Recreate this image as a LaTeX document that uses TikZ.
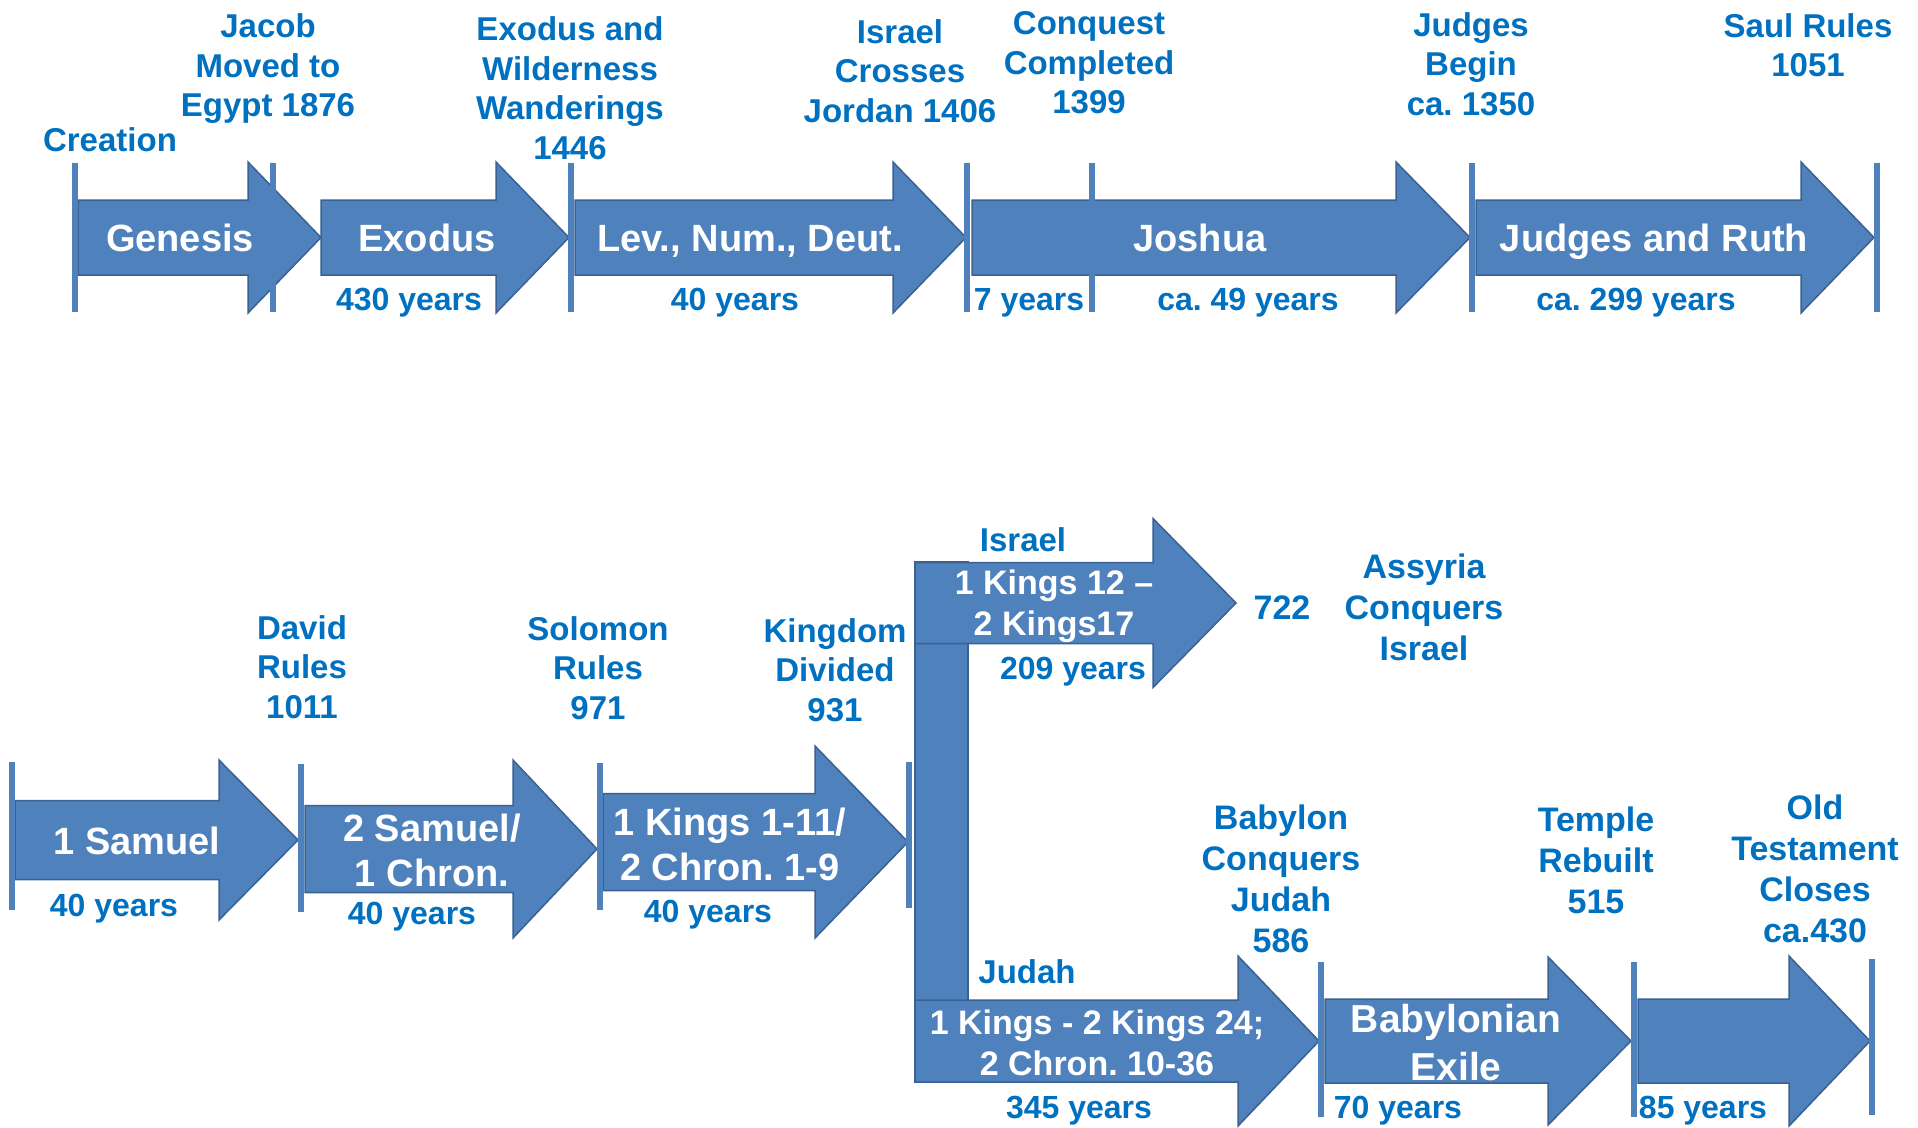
\documentclass[tikz,border=0pt]{standalone}
\usepackage{fontspec}
\setmainfont{Liberation Sans}
\definecolor{abl}{HTML}{4F81BD}
\definecolor{aedge}{HTML}{3A6191}
\definecolor{lbl}{HTML}{0070C0}
\newcommand{\blockarrow}[6]{%
  \draw[arrowshape] ({#1},{#4-#5}) -- ({#2},{#4-#5}) -- ({#2},{#4-#6}) -- ({#3},{#4})
     -- ({#2},{#4+#6}) -- ({#2},{#4+#5}) -- ({#1},{#4+#5}) -- cycle;}
\begin{document}
\frenchspacing
\begin{tikzpicture}[x=1pt,y=-1pt,
  arrowshape/.style={fill=abl, draw=aedge, line width=1.5pt, line join=miter},
  tickline/.style={draw=abl, line width=6pt},
  lab/.style={text=lbl, font=\bfseries\fontsize{33}{39.5}\selectfont, align=center, inner sep=0pt},
  biglab/.style={text=lbl, font=\bfseries\fontsize{34}{41}\selectfont, align=center, inner sep=0pt},
  dur/.style={text=lbl, font=\bfseries\fontsize{32}{38}\selectfont, inner sep=0pt},
  inside/.style={text=white, font=\bfseries\fontsize{38}{45}\selectfont, align=center, inner sep=0pt},
  insideone/.style={inside, text height=27pt, text depth=0pt},
  insidesm/.style={text=white, font=\bfseries\fontsize{34}{41}\selectfont, align=center, inner sep=0pt}]
\useasboundingbox (0,0) rectangle (1918,1127);

% ---------- top row arrows ----------
\blockarrow{78}{248}{321}{237.5}{37.5}{75.5}
\blockarrow{321}{496}{569}{237.5}{37.5}{75.5}
\blockarrow{575}{893}{966}{237.5}{37.5}{75.5}
\blockarrow{972}{1396}{1470}{237.5}{37.5}{75.5}
\blockarrow{1476}{1801}{1874}{237.5}{37.5}{75.5}

\foreach \x in {75,273,571,967,1092,1472,1877}
  \draw[tickline] (\x,163) -- (\x,312);

% ---------- bottom row arrows ----------
\blockarrow{15}{219}{298}{840}{39.5}{80}
\blockarrow{305}{513}{597}{849}{43.5}{89}
\blockarrow{603}{815}{908}{842}{48.5}{96}
\draw[arrowshape] (915,562) rectangle (968,1082);
\blockarrow{915}{1153}{1236}{603}{40.5}{84.5}
\blockarrow{915}{1238}{1319}{1041}{41}{85}
\blockarrow{1325}{1548}{1631}{1041}{42}{84}
\blockarrow{1638}{1789}{1870}{1041}{42}{85}

\draw[tickline] (12,762) -- (12,910);
\draw[tickline] (301,764) -- (301,912);
\draw[tickline] (600,763) -- (600,910);
\draw[tickline] (909,762) -- (909,908);
\draw[tickline] (1321,962) -- (1321,1117);
\draw[tickline] (1634,962) -- (1634,1117);
\draw[tickline] (1872,959) -- (1872,1115);

% ---------- top labels ----------
\node[lab] (creation) at (110,140) {Creation};
\node[lab] (jacob) at (268,69) {Jacob\\Moved to\\Egypt 1876};
\node[lab] (exodusev) at (570,88) {Exodus and\\Wilderness\\Wanderings\\1446};
\node[lab] (jordan) at (900,71) {Israel\\Crosses\\Jordan 1406};
\node[lab] (conquest) at (1089,63) {Conquest\\Completed\\1399};
\node[lab] (judgesbegin) at (1471,64) {Judges\\Begin\\ca. 1350};
\node[lab] (saul) at (1808,45) {Saul Rules\\1051};

% ---------- top arrow texts ----------
\node[insideone] (genesis) at (180,238) {Genesis};
\node[insideone] (exodus) at (427,238) {Exodus};
\node[insideone] (lev) at (750,238) {Lev., Num., Deut.};
\node[insideone] (joshua) at (1200,238) {Joshua};
\node[insideone] (judges) at (1654,238) {Judges and Ruth};

\node[dur] (d430) at (409,303) {430 years};
\node[dur] (d40a) at (735,303) {40 years};
\node[dur] (d7) at (1029,303) {7 years};
\node[dur] (d49) at (1248,303) {ca. 49 years};
\node[dur] (d299) at (1636,303) {ca. 299 years};

% ---------- bottom labels ----------
\node[lab] (david) at (302,667) {David\\Rules\\1011};
\node[lab] (solomon) at (598,668) {Solomon\\Rules\\971};
\node[lab] (kingdom) at (835,670) {Kingdom\\Divided\\931};
\node[lab] (israellab) at (1023,540) {Israel};
\node[biglab] (y722) at (1282,608) {722};
\node[biglab] (assyria) at (1424,607) {Assyria\\Conquers\\Israel};
\node[lab] (judahlab) at (1027,972) {Judah};
\node[biglab] (babylon) at (1281,879) {Babylon\\Conquers\\Judah\\586};
\node[biglab] (temple) at (1596,860) {Temple\\Rebuilt\\515};
\node[biglab] (oldt) at (1815,869) {Old\\Testament\\Closes\\ca.430};

% ---------- bottom arrow texts ----------
\node[insideone] (sam1) at (137,841) {1 Samuel};
\node[inside] (sam2) at (432,850) {2 Samuel/\\1 Chron.};
\node[inside] (kings1) at (730,844) {1 Kings 1-11/\\2 Chron. 1-9};
\node[insidesm] (israeltxt) at (1054,606) {1 Kings 12 --\\2 Kings17};
\node[insidesm] (judahtxt) at (1097,1043) {1 Kings - 2 Kings 24;\\2 Chron. 10-36};
\node[text=white, font=\bfseries\fontsize{39}{48}\selectfont, align=center, inner sep=0pt] (exile) at (1456,1043) {Babylonian\\Exile};

\node[dur] (d40b) at (114,909) {40 years};
\node[dur] (d40c) at (412,917) {40 years};
\node[dur] (d40d) at (708,915) {40 years};
\node[dur] (d209) at (1073,672) {209 years};
\node[dur] (d345) at (1079,1111) {345 years};
\node[dur] (d70) at (1398,1111) {70 years};
\node[dur] (d85) at (1703,1111) {85 years};
\end{tikzpicture}
\end{document}
